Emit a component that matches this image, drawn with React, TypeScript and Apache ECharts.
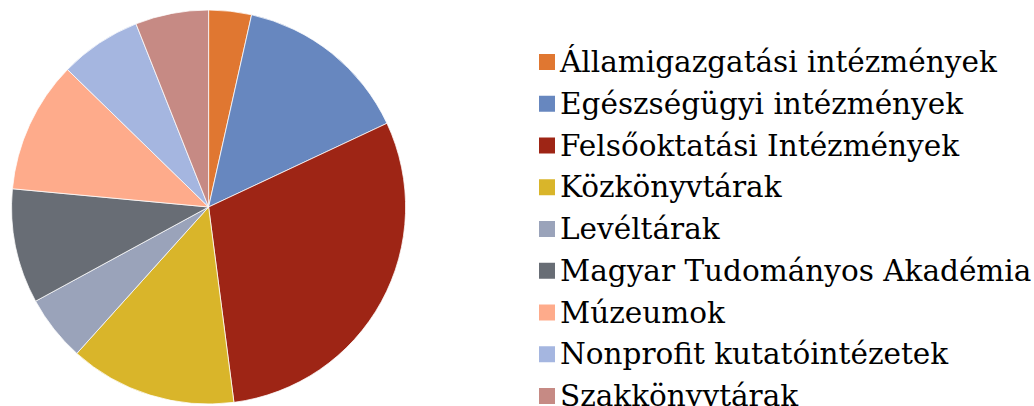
import React, { useEffect, useRef } from "react";
import * as echarts from "echarts";

const categories = [
  "Államigazgatási intézmények",
  "Egészségügyi intézmények",
  "Felsőoktatási Intézmények",
  "Közkönyvtárak",
  "Levéltárak",
  "Magyar Tudományos Akadémia",
  "Múzeumok",
  "Nonprofit kutatóintézetek",
  "Szakkönyvtárak",
];
const values = [3.5, 14.5, 29.9, 13.7, 5.4, 9.4, 10.8, 6.7, 6.0];
const colors = [
  "#E07731",
  "#6787BF",
  "#9E2515",
  "#D9B52A",
  "#9AA3BA",
  "#686D75",
  "#FEAB8B",
  "#A5B6E0",
  "#C68A84",
];

export default function App() {
  const ref = useRef<HTMLDivElement>(null);
  useEffect(() => {
    if (!ref.current) return;
    const chart = echarts.init(ref.current, undefined, { renderer: "svg" });
    chart.setOption({
      animation: false,
      color: colors,
      legend: {
        orient: "vertical",
        left: 532,
        top: 42,
        height: 600,
        itemWidth: 18,
        itemHeight: 18,
        itemGap: 11.75,
        icon: "rect",
        textStyle: {
          fontFamily: "'DejaVu Serif', 'DejaVu Sans', serif",
          fontSize: 29.5,
          color: "#000",
          lineHeight: 30,
          padding: [0, 0, 0, -1],
        },
        data: categories,
      },
      series: [
        {
          type: "pie",
          center: [208.6, 207],
          radius: 197,
          startAngle: 90,
          clockwise: true,
          label: { show: false },
          labelLine: { show: false },
          itemStyle: { borderColor: "#fff", borderWidth: 0.75 },
          emphasis: { disabled: true },
          data: categories.map((name, i) => ({ name, value: values[i] })),
        },
      ],
    });
    return () => chart.dispose();
  }, []);
  return (
    <div
      ref={ref}
      style={{ position: "fixed", left: 0, top: 0, width: 1034, height: 406, background: "#fff" }}
    />
  );
}
